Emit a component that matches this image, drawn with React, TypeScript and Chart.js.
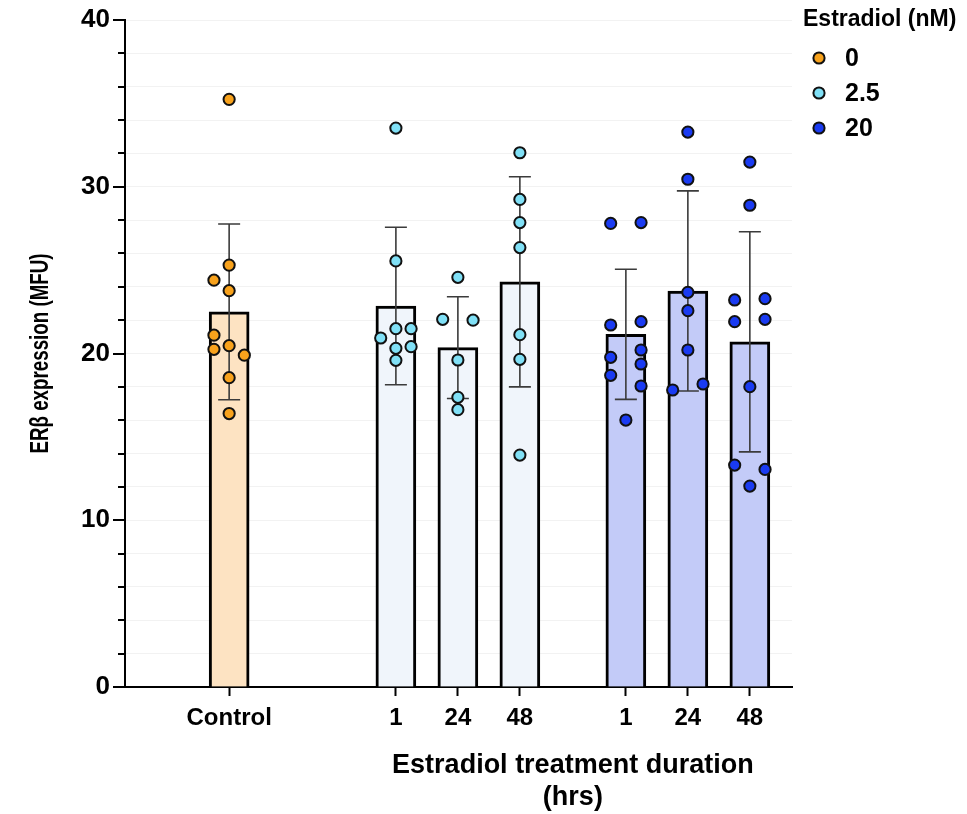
import React, { useEffect, useRef } from 'react';
import { Chart, registerables } from 'chart.js';
Chart.register(...registerables);

// ---- data ----
const groups = ['Control', '1', '24', '48', '1', '24', '48'];
const groupConc = ['0', '2.5', '2.5', '2.5', '20', '20', '20'];
const concLevels = ['0', '2.5', '20'];
const legendTitle = 'Estradiol (nM)';
const xTitle = ['Estradiol treatment duration', '(hrs)'];
const yTitle = 'ERβ expression (MFU)';
const means = [22.5, 22.85, 20.35, 24.3, 21.15, 23.75, 20.7];
const sds = [5.27, 4.72, 3.05, 6.3, 3.9, 6.0, 6.6];

const valsControl = [35.24, 25.3, 24.4, 23.77, 21.1, 20.25, 20.47, 19.9, 18.55, 16.4];
const vals25h1 = [33.52, 25.55, 21.49, 21.49, 20.93, 20.31, 20.41, 19.59];
const vals25h24 = [24.57, 22.05, 22.0, 19.61, 17.37, 16.63];
const vals25h48 = [32.04, 29.24, 27.85, 26.35, 21.13, 19.65, 13.91];
const vals20h1 = [27.8, 27.85, 21.71, 21.91, 20.21, 19.77, 19.37, 18.69, 18.05, 16.01];
const vals20h24 = [33.28, 30.45, 23.67, 22.57, 20.21, 17.81, 18.17];
const vals20h48 = [31.48, 28.89, 23.21, 23.29, 21.91, 22.05, 18.01, 13.31, 13.05, 12.05];
const groupValues = [valsControl, vals25h1, vals25h24, vals25h48, vals20h1, vals20h24, vals20h48];

// ---- layout (positions / styles) ----
const xPos = [0, 2.69, 3.69, 4.69, 6.4, 7.4, 8.4];
const slotsControl = [0, 0, -1, 0, -1, -1, 0, 1, 0, 0];
const slots25h1 = [0, 0, 0, 1, -1, 0, 1, 0];
const slots25h24 = [0, -1, 1, 0, 0, 0];
const slots25h48 = [0, 0, 0, 0, 0, 0, 0];
const slots20h1 = [-1, 1, -1, 1, 1, -1, 1, -1, 1, 0];
const slots20h24 = [0, 0, 0, 0, 0, -1, 1];
const slots20h48 = [0, 0, -1, 1, -1, 1, 0, -1, 1, 0];
const groupSlots = [slotsControl, slots25h1, slots25h24, slots25h48, slots20h1, slots20h24, slots20h48];
const spread = 0.245;

const pointColors: Record<string, string> = { '0': '#F8A21C', '2.5': '#80E0F6', '20': '#1A3BF2' };
const barColors: Record<string, string> = { '0': '#FDE3C2', '2.5': '#F0F5FB', '20': '#C3CBF8' };
const FONT = "'Liberation Sans', Arial, Helvetica, sans-serif";

export default function App() {
  const ref = useRef<HTMLCanvasElement | null>(null);
  useEffect(() => {
    if (!ref.current) return;

    const barData = groups.map((_, i) => ({ x: xPos[i], y: means[i] }));
    const scatterSets = concLevels.map((c) => {
      const data: { x: number; y: number }[] = [];
      groups.forEach((_, g) => {
        if (groupConc[g] !== c) return;
        groupValues[g].forEach((v, k) => data.push({ x: xPos[g] + groupSlots[g][k] * spread, y: v }));
      });
      return {
        type: 'scatter' as const,
        label: c,
        data,
        order: 1,
        pointRadius: 5.6,
        pointHoverRadius: 5.6,
        pointBorderWidth: 2,
        pointBackgroundColor: pointColors[c],
        pointBorderColor: '#111',
        backgroundColor: pointColors[c],
        borderColor: '#111',
      };
    });

    const errorBars = {
      id: 'errorBars',
      afterDatasetDraw(chart: any, args: any) {
        if (args.index !== 0) return;
        const { ctx } = chart;
        const xs = chart.scales.x, ys = chart.scales.y;
        ctx.save();
        ctx.strokeStyle = '#3b3b3b';
        ctx.lineWidth = 1.6;
        means.forEach((m, i) => {
          const x = xs.getPixelForValue(xPos[i]);
          const t = ys.getPixelForValue(m + sds[i]);
          const b = ys.getPixelForValue(m - sds[i]);
          ctx.beginPath();
          ctx.moveTo(x, t); ctx.lineTo(x, b);
          ctx.moveTo(x - 11, t); ctx.lineTo(x + 11, t);
          ctx.moveTo(x - 11, b); ctx.lineTo(x + 11, b);
          ctx.stroke();
        });
        ctx.restore();
      },
    };

    const extras = {
      id: 'extras',
      afterDraw(chart: any) {
        const { ctx, chartArea } = chart;
        const xs = chart.scales.x, ys = chart.scales.y;
        ctx.save();
        // y tick marks (major/minor)
        ctx.strokeStyle = '#000';
        ctx.lineWidth = 2;
        ys.ticks.forEach((t: any) => {
          const y = Math.round(ys.getPixelForValue(t.value));
          const len = t.value % 10 === 0 ? 12 : 7;
          ctx.beginPath();
          ctx.moveTo(chartArea.left, y);
          ctx.lineTo(chartArea.left - len, y);
          ctx.stroke();
        });
        // y title (condensed)
        ctx.save();
        ctx.translate(41, (chartArea.top + chartArea.bottom) / 2);
        ctx.rotate(-Math.PI / 2);
        ctx.scale(0.75, 1);
        ctx.fillStyle = '#000';
        ctx.font = `bold 25px ${FONT}`;
        ctx.textAlign = 'center';
        ctx.textBaseline = 'middle';
        ctx.fillText(yTitle, 0, 0);
        ctx.restore();
        // x title
        ctx.fillStyle = '#000';
        ctx.font = `bold 27px ${FONT}`;
        ctx.textAlign = 'center';
        ctx.textBaseline = 'middle';
        const cx = (xs.getPixelForValue(xPos[1]) + xs.getPixelForValue(xPos[6])) / 2;
        ctx.fillText(xTitle[0], cx, 766);
        ctx.fillText(xTitle[1], cx, 798);
        // legend
        const lx = chartArea.right;
        ctx.textAlign = 'left';
        ctx.font = `bold 23px ${FONT}`;
        ctx.fillText(legendTitle, lx + 11, 20);
        ctx.font = `bold 25px ${FONT}`;
        concLevels.forEach((c, i) => {
          const y = 58 + i * 35;
          ctx.beginPath();
          ctx.arc(lx + 27, y, 5.6, 0, Math.PI * 2);
          ctx.fillStyle = pointColors[c];
          ctx.fill();
          ctx.lineWidth = 2;
          ctx.strokeStyle = '#111';
          ctx.stroke();
          ctx.fillStyle = '#000';
          ctx.fillText(c, lx + 53, y + 1);
        });
        ctx.restore();
      },
    };

    const chart = new Chart(ref.current, {
      type: 'bar',
      data: {
        datasets: [
          {
            type: 'bar' as const,
            label: 'mean',
            data: barData as any,
            order: 2,
            backgroundColor: groupConc.map((c) => barColors[c]),
            borderColor: '#000',
            borderWidth: 3,
            borderSkipped: 'start',
            barThickness: 40,
          },
          ...scatterSets,
        ] as any,
      },
      options: {
        animation: false,
        responsive: true,
        maintainAspectRatio: false,
        layout: { padding: { top: 20, right: 175, left: 0, bottom: 0 } },
        plugins: { legend: { display: false }, tooltip: { enabled: false } },
        scales: {
          x: {
            type: 'linear',
            min: -1.68,
            max: 9.08,
            offset: false,
            grid: { drawOnChartArea: false, offset: false, tickLength: 9, tickColor: '#000', tickWidth: 2 },
            border: { color: '#000', width: 2 },
            afterBuildTicks: (scale: any) => {
              scale.ticks = xPos.map((v) => ({ value: v }));
            },
            afterFit: (scale: any) => {
              scale.height = 127;
            },
            ticks: {
              autoSkip: false,
              maxRotation: 0,
              padding: 8,
              color: '#000',
              font: { family: FONT, size: 24, weight: 'bold' },
              callback: (_v: any, i: number) => groups[i],
            },
          },
          y: {
            min: 0,
            max: 40,
            afterFit: (scale: any) => {
              scale.width = 125;
            },
            grid: { color: 'rgba(0,0,0,0.05)', lineWidth: 1, drawTicks: true, tickLength: 12, tickColor: 'rgba(0,0,0,0)' },
            border: { color: '#000', width: 2 },
            ticks: {
              stepSize: 2,
              autoSkip: false,
              padding: 3,
              color: '#000',
              font: { family: FONT, size: 26, weight: 'bold' },
              callback: (v: any) => (Number(v) % 10 === 0 ? String(v) : ''),
            },
          },
        },
      },
      plugins: [errorBars, extras],
    });
    return () => chart.destroy();
  }, []);

  return (
    <div style={{ position: 'absolute', left: 0, top: 0, width: 967, height: 814, background: '#fff' }}>
      <canvas ref={ref} />
    </div>
  );
}
